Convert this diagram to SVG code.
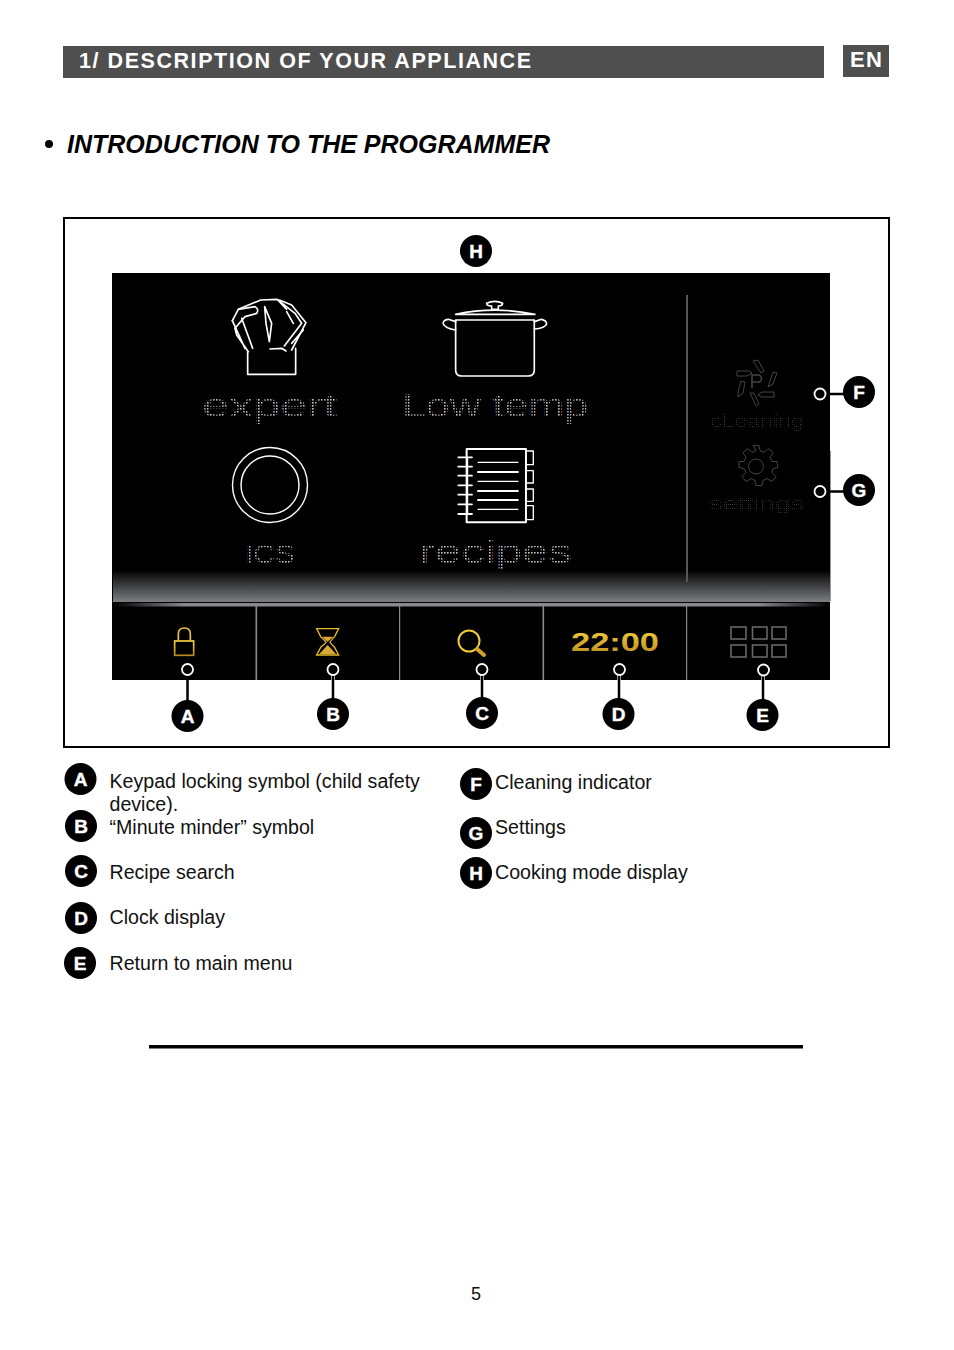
<svg xmlns="http://www.w3.org/2000/svg" width="954" height="1350" viewBox="0 0 954 1350">
<style>
text{font-family:"Liberation Sans",Arial,sans-serif}
.body{font-size:19.6px;fill:#111}
.badge circle{fill:#000}
.badge text{fill:#fff;stroke:#fff;stroke-width:.4;font-weight:bold;font-size:19px;text-anchor:middle}
.ic{fill:none;stroke:#fff;stroke-width:5;stroke-linejoin:round;stroke-linecap:round}
.dm{font-family:"Liberation Sans",sans-serif;fill:url(#dots)}
.dm2{font-family:"Liberation Sans",sans-serif;fill:url(#dots2)}
.pin{fill:#000;stroke:#fff;stroke-width:1.8}
.lnk{fill:none;stroke:#000;stroke-width:2.5}
.lnw{fill:none;stroke:#ddd;stroke-width:3.8}
.gold{fill:none;stroke:url(#gold);stroke-width:5}
.sq{fill:none;stroke:#666;stroke-width:1.6}
.dim{fill:none;stroke:#444;stroke-width:1}
</style>
<defs>
<pattern id="dots" width="3" height="3" patternUnits="userSpaceOnUse"><rect width="1.6" height="1.6" fill="#c4c4c4"/></pattern>
<pattern id="dots2" width="2" height="2" patternUnits="userSpaceOnUse"><rect width="1" height="1" fill="#3c3c3c"/></pattern>
<linearGradient id="fade" x1="0" y1="0" x2="0" y2="1"><stop offset="0" stop-color="#000"/><stop offset="1" stop-color="#7d7e82"/></linearGradient>
<linearGradient id="bar" x1="0" y1="0" x2="1" y2="0"><stop offset="0" stop-color="#000"/><stop offset=".1" stop-color="#868992"/><stop offset=".9" stop-color="#868992"/><stop offset="1" stop-color="#000"/></linearGradient>
<linearGradient id="gold" gradientUnits="objectBoundingBox" x1="0" y1="0" x2="0" y2="1"><stop offset="0" stop-color="#f5d43c"/><stop offset="1" stop-color="#bd8a22"/></linearGradient>
</defs>

<g id="header">
<rect x="63" y="46" width="761" height="32" fill="#4f4f4f"/>
<text x="79" y="68" font-size="21.5" font-weight="bold" fill="#fff" textLength="452">1/ DESCRIPTION OF YOUR APPLIANCE</text>
<rect x="843" y="45" width="46" height="32" fill="#4f4f4f"/>
<text x="850" y="67" font-size="22" font-weight="bold" fill="#fff" textLength="32">EN</text>
</g>
<g id="title">
<circle cx="49" cy="144" r="4" fill="#000"/>
<text x="67" y="153" font-size="25" font-weight="bold" font-style="italic" fill="#000" textLength="483">INTRODUCTION TO THE PROGRAMMER</text>
</g>

<rect id="frame" x="64" y="218" width="825" height="529" fill="#fff" stroke="#000" stroke-width="2"/>

<g id="panel">
<rect x="112" y="273" width="718" height="407" fill="#000"/>
<rect x="113" y="570" width="717" height="32" fill="url(#fade)"/>
<rect x="113" y="603" width="717" height="3.5" fill="url(#bar)"/>
<rect x="686" y="295" width="2" height="287" fill="#55565a"/>
<rect x="830" y="451" width="1" height="150" fill="#999"/>
<g fill="#8a8a8a"><rect x="255.5" y="606" width="1.6" height="74"/><rect x="399" y="606" width="1.2" height="74"/><rect x="542.5" y="606" width="1.6" height="74"/><rect x="686" y="606" width="1.2" height="74"/></g>
</g>

<g id="expert">
<g transform="translate(190 280) scale(.3333)" class="ic">
<path d="M173 215V283H317V205"/>
<path d="M127 122L145 88L212 60L262 58L290 88"/>
<path d="M268 60L305 75L348 128L305 210"/>
<path d="M270 65L315 100L335 130L283 198"/>
<path d="M127 122L165 205M135 145L140 165L175 215"/>
<path d="M145 88L195 80Q208 88 200 100L165 110L135 145M155 115L188 205"/>
<path d="M224 80L245 130L238 185L228 130Z"/>
<path d="M240 207L275 205L288 213M290 95L310 130M340 150L305 190"/>
</g>
<text class="dm" x="202" y="417" font-size="33" textLength="135" lengthAdjust="spacingAndGlyphs">expert</text>
</g>
<g id="low-temp">
<g transform="translate(190 280) scale(.3333)" class="ic">
<path d="M797 103Q915 78 1035 103Z"/>
<path d="M890 70Q915 58 938 70Q938 78 925 78V88H905V78Q890 78 890 70Z"/>
<path d="M797 120H1033V270Q1033 288 1015 288H815Q797 288 797 270Z"/>
<path d="M797 125L775 118Q758 120 760 132Q765 145 797 150M1033 125L1055 118Q1070 122 1070 132Q1065 145 1033 147"/>
</g>
<text class="dm" x="402" y="417" font-size="33" textLength="186" lengthAdjust="spacingAndGlyphs">Low temp</text>
</g>
<g id="ics">
<g fill="none" stroke="#fff" stroke-width="1.4"><circle cx="270" cy="485" r="37.5"/><circle cx="270" cy="485" r="29"/></g>
<text class="dm" x="245" y="563" font-size="25" textLength="50" lengthAdjust="spacingAndGlyphs">ICS</text>
</g>
<g id="recipes">
<g transform="translate(190 430) scale(.3333)" class="ic">
<rect x="830" y="57" width="178" height="220" stroke-width="6"/>
<path stroke-width="4" d="M1010 63h20v41h-20M1010 122h20v37h-20M1010 177h20v37h-20M1010 227h20v42h-20"/>
<path stroke-width="3.5" d="M864 97H984M864 154H984M864 238H984"/>
<path stroke-width="5.5" d="M864 126H984M864 183H984M864 210H984"/>
<path stroke-width="5.5" d="M805 82H846M805 110H846M805 137H846M805 166H846M805 194H846M805 223H846M805 252H846M832 82V252"/>
</g>
<text class="dm" x="419" y="563" font-size="33" textLength="153" lengthAdjust="spacingAndGlyphs">recipes</text>
</g>
<g id="cleaning">
<g class="dim"><path d="M753 361l5-1 6 11-3 2zM737 371h12l3 2-5 3h-10zM773 372l4 1-4 11-5 3zM741 381l4 1-2 11-5 4 0-5zM750 393l4 0 5 11-3 2zM762 392h12v5h-12l-4-2z"/><path d="M752 388V375h6a3.500 3.500 0 0 1 0 7h-6" stroke-width="1.600"/></g>
<text class="dm2" x="710" y="427" font-size="19" textLength="94" lengthAdjust="spacingAndGlyphs">cLeaning</text>
</g>
<g id="settings">
<g class="dim" transform="translate(756 466.500)"><circle r="7.500"/><path d="M-3-21h6l1 5 4 2 4-4 5 4-3 5 2 4 5 0 1 6-5 1-1 4 4 4-4 5-5-3-4 2-1 5h-6l-1-5-4-2-5 3-4-5 4-4-2-4-5-1v-6l5 0 2-4-3-5 5-4 4 4 4-2z"/></g>
<text class="dm2" x="709" y="510" font-size="19" textLength="95" lengthAdjust="spacingAndGlyphs">settings</text>
</g>

<g id="lock"><g transform="translate(110 590) scale(.3333)"><rect class="gold" x="194" y="153" width="57" height="43"/><path class="gold" d="M205 152V132Q205 114 223 114Q241 114 241 132V152" style="stroke:#e8c53a"/></g></g>
<g id="timer"><g transform="translate(110 590) scale(.3333)"><path d="M620 116H686L674 140Q660 155 660 157Q662 160 674 172L686 195H620L632 172Q646 160 648 157Q646 152 632 140Z" fill="none" stroke="#e3b92e" stroke-width="4"/><path d="M636 140H670L653 155ZM653 165L678 192H628Z" fill="#d9a934"/></g></g>
<g id="search"><circle cx="469" cy="641" r="10.500" fill="none" stroke="#f0cb38" stroke-width="2"/><path d="M477 649L484 655" stroke="#d5a32c" stroke-width="4" stroke-linecap="round"/></g>
<g id="clock"><text x="571" y="650.500" font-size="25" font-weight="bold" font-family="Liberation Mono" fill="url(#gold)" textLength="88" lengthAdjust="spacingAndGlyphs">22:00</text></g>
<g id="menu"><rect class="sq" x="731" y="627" width="15" height="12"/><rect class="sq" x="752.500" y="627" width="14.500" height="12"/><rect class="sq" x="772" y="627" width="14" height="12"/><rect class="sq" x="731" y="645" width="15" height="12"/><rect class="sq" x="752.500" y="645" width="14.500" height="12"/><rect class="sq" x="772" y="645" width="14" height="12"/></g>

<g id="connectors">
<path class="lnk" d="M187.500 680V705M827 394H845M827 491.500H845"/>
<path class="lnw" d="M333 675V680M482 675V680M619 675V680M763 675V680"/>
<path class="lnk" d="M333 675V702M482 675V701M619 675V702M763 675V703"/>
<circle class="pin" cx="187.500" cy="669.500" r="5.500"/><circle class="pin" cx="333" cy="669.500" r="5.500"/><circle class="pin" cx="482" cy="669.500" r="5.500"/><circle class="pin" cx="619.500" cy="669.500" r="5.500"/><circle class="pin" cx="763.500" cy="670" r="5.500"/>
<circle class="pin" cx="820" cy="394" r="5.500"/><circle class="pin" cx="820" cy="491.500" r="5.500"/>
</g>

<g id="node-H" class="badge"><circle cx="476" cy="251" r="16"/><text x="476" y="258">H</text></g>
<g id="node-F" class="badge"><circle cx="859" cy="392" r="16"/><text x="859" y="399">F</text></g>
<g id="node-G" class="badge"><circle cx="859" cy="490" r="16"/><text x="859" y="497">G</text></g>
<g id="node-A" class="badge"><circle cx="187.500" cy="716" r="16"/><text x="187.500" y="723">A</text></g>
<g id="node-B" class="badge"><circle cx="333" cy="714" r="16"/><text x="333" y="721">B</text></g>
<g id="node-C" class="badge"><circle cx="482" cy="713" r="16"/><text x="482" y="720">C</text></g>
<g id="node-D" class="badge"><circle cx="618.500" cy="714" r="16"/><text x="618.500" y="721">D</text></g>
<g id="node-E" class="badge"><circle cx="762.500" cy="715" r="16"/><text x="762.500" y="722">E</text></g>

<g id="legend">
<g class="badge"><circle cx="80.500" cy="779" r="16"/><text x="80.500" y="786">A</text></g>
<g class="badge"><circle cx="81" cy="826" r="16"/><text x="81" y="833">B</text></g>
<g class="badge"><circle cx="81" cy="871" r="16"/><text x="81" y="878">C</text></g>
<g class="badge"><circle cx="81" cy="918" r="16"/><text x="81" y="925">D</text></g>
<g class="badge"><circle cx="80" cy="963" r="16"/><text x="80" y="970">E</text></g>
<g class="badge"><circle cx="476" cy="784" r="16"/><text x="476" y="791">F</text></g>
<g class="badge"><circle cx="476" cy="833" r="16"/><text x="476" y="840">G</text></g>
<g class="badge"><circle cx="476" cy="873" r="16"/><text x="476" y="880">H</text></g>
<text class="body" x="109.500" y="788">Keypad locking symbol (child safety</text>
<text class="body" x="109.500" y="811">device).</text>
<text class="body" x="109.500" y="834">“Minute minder” symbol</text>
<text class="body" x="109.500" y="879">Recipe search</text>
<text class="body" x="109.500" y="924">Clock display</text>
<text class="body" x="109.500" y="970">Return to main menu</text>
<text class="body" x="495" y="789">Cleaning indicator</text>
<text class="body" x="495" y="834">Settings</text>
<text class="body" x="495" y="879">Cooking mode display</text>
</g>

<rect id="rule" x="149" y="1045" width="654" height="3.500" fill="#000"/>
<text id="page" x="476" y="1300" font-size="18" fill="#111" text-anchor="middle">5</text>
</svg>
